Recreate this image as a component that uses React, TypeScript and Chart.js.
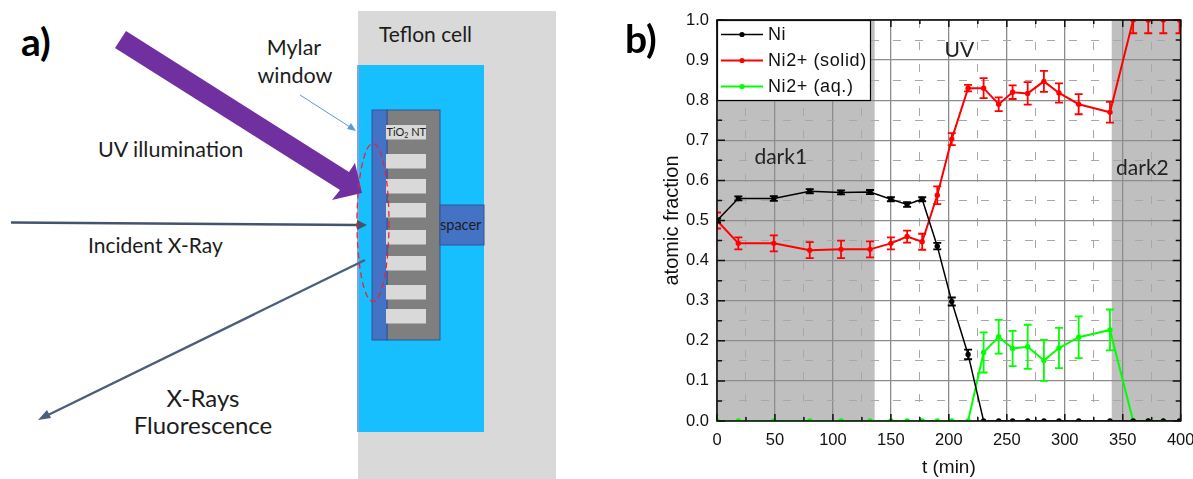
import React, { useEffect, useRef } from "react";
import { Chart, registerables } from "chart.js";

Chart.register(...registerables);

const times = [0, 18.4, 49, 80, 107, 132, 150, 164, 177, 190, 202.5, 216.6, 230, 243, 255, 268, 282, 295, 312, 339, 359, 372, 385, 399];
const niValues = [0.5, 0.555, 0.555, 0.573, 0.57, 0.571, 0.553, 0.54, 0.553, 0.436, 0.298, 0.166, 0, 0, 0, 0, 0, 0, 0, 0, 0, 0, 0, 0];
const niErrors = [0.005, 0.005, 0.006, 0.005, 0.005, 0.005, 0.005, 0.006, 0.005, 0.008, 0.01, 0.012, 0, 0, 0, 0, 0, 0, 0, 0, 0, 0, 0, 0];
const solidValues = [0.5, 0.443, 0.443, 0.426, 0.428, 0.428, 0.443, 0.46, 0.447, 0.563, 0.703, 0.83, 0.83, 0.79, 0.82, 0.817, 0.847, 0.818, 0.79, 0.77, 1, 1, 1, 1];
const solidErrors = [0.02, 0.015, 0.02, 0.02, 0.022, 0.02, 0.015, 0.015, 0.02, 0.022, 0.015, 0.008, 0.025, 0.017, 0.017, 0.028, 0.026, 0.024, 0.025, 0.026, 0.033, 0.033, 0.033, 0.033];
const aqueousValues = [0, 0, 0, 0, 0, 0, 0, 0, 0, 0, 0, 0, 0.171, 0.21, 0.181, 0.185, 0.151, 0.182, 0.209, 0.227, 0, 0, 0, 0];
const aqueousErrors = [0, 0, 0, 0, 0, 0, 0, 0, 0, 0, 0, 0, 0.05, 0.042, 0.044, 0.055, 0.051, 0.05, 0.052, 0.051, 0, 0, 0, 0];
const seriesNames = ["Ni", "Ni2+ (solid)", "Ni2+ (aq.)"];
const seriesColors = ["#000000", "#ff0000", "#00ff00"];
const darkSpans = [[0, 136], [340.5, 400]];
const regionLabels = [
  { text: "dark1", t: 55, f: 0.657 },
  { text: "UV", t: 209, f: 0.925 },
  { text: "dark2", t: 367, f: 0.63 },
];

const sans = "Liberation Sans, Arial, sans-serif";
const calibri = "Lato, sans-serif";

const shadePlugin = {
  id: "shade",
  beforeDraw(chart: any) {
    const { ctx, scales, chartArea } = chart;
    ctx.save();
    ctx.fillStyle = "#bfbfbf";
    darkSpans.forEach(([a, b]) => {
      const l = scales.x.getPixelForValue(a);
      ctx.fillRect(l, chartArea.top, scales.x.getPixelForValue(b) - l, chartArea.bottom - chartArea.top);
    });
    ctx.restore();
  },
};

const errorPlugin = {
  id: "errors",
  afterDatasetDraw(chart: any, args: any) {
    const ds = chart.data.datasets[args.index];
    const { ctx, scales, chartArea } = chart;
    ctx.save();
    ctx.beginPath();
    ctx.rect(chartArea.left, chartArea.top - 1, chartArea.right - chartArea.left, chartArea.bottom - chartArea.top + 2);
    ctx.clip();
    ctx.strokeStyle = ds.borderColor;
    ctx.lineWidth = 1.8;
    ds.data.forEach((p: any, i: number) => {
      const e = ds.errors[i];
      if (!e) return;
      const x = scales.x.getPixelForValue(p.x);
      const hi = scales.y.getPixelForValue(p.y + e);
      const lo = scales.y.getPixelForValue(p.y - e);
      ctx.beginPath();
      ctx.moveTo(x, hi);
      ctx.lineTo(x, lo);
      ctx.moveTo(x - 4, hi);
      ctx.lineTo(x + 4, hi);
      ctx.moveTo(x - 4, lo);
      ctx.lineTo(x + 4, lo);
      ctx.stroke();
    });
    ctx.restore();
  },
};

const framePlugin = {
  id: "frame",
  afterDatasetsDraw(chart: any) {
    const { ctx, scales, chartArea: a } = chart;
    ctx.save();
    ctx.strokeStyle = "#111";
    ctx.lineWidth = 1.5;
    scales.y.ticks.forEach((t: any) => {
      const y = scales.y.getPixelForValue(t.value);
      const len = t.label === "" ? 5 : 8;
      ctx.beginPath();
      ctx.moveTo(a.left, y);
      ctx.lineTo(a.left + len, y);
      ctx.moveTo(a.right, y);
      ctx.lineTo(a.right - len, y);
      ctx.stroke();
    });
    scales.x.ticks.forEach((t: any) => {
      const x = scales.x.getPixelForValue(t.value);
      const len = t.label === "" ? 4 : 7;
      ctx.beginPath();
      ctx.moveTo(x, a.bottom);
      ctx.lineTo(x, a.bottom - len);
      ctx.moveTo(x, a.top);
      ctx.lineTo(x, a.top + len);
      ctx.stroke();
    });

    ctx.fillStyle = "#222";
    ctx.font = `21px ${calibri}`;
    ctx.textAlign = "center";
    ctx.textBaseline = "middle";
    regionLabels.forEach((r) => {
      ctx.fillText(r.text, scales.x.getPixelForValue(r.t), scales.y.getPixelForValue(r.f));
    });

    const bx = a.left, by = a.top, bw = 153, bh = 80;
    ctx.fillStyle = "#fff";
    ctx.fillRect(bx, by, bw, bh);
    ctx.strokeStyle = "#000";
    ctx.lineWidth = 1.2;
    ctx.strokeRect(bx + 0.5, by + 0.5, bw, bh);
    ctx.font = `18px ${sans}`;
    (ctx as any).letterSpacing = "0.6px";
    ctx.textAlign = "left";
    seriesNames.forEach((name, i) => {
      const y = by + 14.5 + i * 26;
      ctx.strokeStyle = seriesColors[i];
      ctx.fillStyle = seriesColors[i];
      ctx.lineWidth = i === 0 ? 1.5 : 2;
      ctx.beginPath();
      ctx.moveTo(bx + 4, y);
      ctx.lineTo(bx + 46, y);
      ctx.stroke();
      ctx.beginPath();
      ctx.arc(bx + 25, y, 2.6, 0, Math.PI * 2);
      ctx.fill();
      ctx.fillStyle = "#111";
      ctx.fillText(name, bx + 51, y + 1);
    });
    (ctx as any).letterSpacing = "0px";

    ctx.strokeStyle = "#111";
    ctx.lineWidth = 1.6;
    ctx.strokeRect(a.left, a.top, a.right - a.left, a.bottom - a.top);
    ctx.restore();
  },
};

const toPoints = (ys: number[]) => ys.map((y, i) => ({ x: times[i], y }));
const isMajorX = (c: any) => c.tick && c.tick.value % 50 === 0;
const isMajorY = (c: any) => c.tick && Math.round(c.tick.value * 100) % 10 === 0;

const Schematic = () => {
  const textStyle: React.CSSProperties = { fontFamily: calibri, fill: "#1c1c1c" };
  const bars = [154, 179, 203, 230, 256, 285, 309];
  return (
    <svg width={620} height={479} style={{ position: "absolute", left: 0, top: 0 }}>
      <rect x={358} y={11} width={198} height={468} fill="#d9d9d9" />
      <rect x={358} y={65} width={126} height={367} fill="#17bfff" />
      <line x1={358} y1={65} x2={358} y2={432} stroke="#7ea6d8" strokeWidth={2} />
      <rect x={387} y={110} width={53} height={230} fill="#7f7f7f" stroke="#2f5597" />
      <rect x={372} y={110} width={15} height={230} fill="#4472c4" stroke="#2f5597" />
      <rect x={386} y={125} width={40} height={14.5} fill="#d9d9d9" />
      {bars.map((y) => (
        <rect key={y} x={386} y={y} width={40} height={14.5} fill="#d9d9d9" />
      ))}
      <text x={386.5} y={136} fontSize={11} style={textStyle}>TiO<tspan fontSize={7} dy={2}>2</tspan><tspan dy={-2}> NT</tspan></text>
      <rect x={440} y={205} width={44} height={40} fill="#4472c4" stroke="#2f5597" />
      <text x={440} y={230} fontSize={14.5} style={textStyle}>spacer</text>
      <polygon points="126,31 349,172 355,163 362,193 332,200 340,190 115,48" fill="#7030a0" />
      <line x1={11} y1={222.5} x2={358} y2={225} stroke="#44546a" strokeWidth={2.4} />
      <polygon points="367,225 357,220 357,230" fill="#44546a" />
      <line x1={365} y1={260} x2={46} y2={416} stroke="#4a5f7a" strokeWidth={2.4} />
      <polygon points="38,420 47,410 51,418" fill="#4a5f7a" />
      <line x1={300} y1={95} x2={350} y2={127} stroke="#5b9bd5" strokeWidth={1} />
      <polygon points="356,131 347,129 351,123" fill="#5b9bd5" />
      <ellipse cx={373} cy={222.5} rx={16} ry={79} fill="none" stroke="#e8243a" strokeWidth={1.3} strokeDasharray="6 4" />
      <text x={21} y={56} fontSize={39} fontWeight={700} style={{ ...textStyle, fill: "#000" }}>a)</text>
      <text x={379} y={42} fontSize={21} style={textStyle}>Teflon cell</text>
      <text x={294} y={55} fontSize={21.5} textAnchor="middle" style={textStyle}>Mylar</text>
      <text x={295} y={83} fontSize={21.5} textAnchor="middle" style={textStyle}>window</text>
      <text x={98} y={157} fontSize={21.5} style={textStyle}>UV illumination</text>
      <text x={88} y={253} fontSize={21} style={textStyle}>Incident X-Ray</text>
      <text x={203} y={407} fontSize={24} textAnchor="middle" style={textStyle}>X-Rays</text>
      <text x={203} y={434} fontSize={24} textAnchor="middle" style={textStyle}>Fluorescence</text>
    </svg>
  );
};

export default function App() {
  const ref = useRef<HTMLCanvasElement>(null);
  useEffect(() => {
    const chart = new Chart(ref.current as HTMLCanvasElement, {
      type: "line",
      data: {
        datasets: [niValues, solidValues, aqueousValues].map((vals, i) => ({
          label: seriesNames[i],
          data: toPoints(vals),
          errors: [niErrors, solidErrors, aqueousErrors][i],
          borderColor: seriesColors[i],
          backgroundColor: seriesColors[i],
          borderWidth: i === 0 ? 1.5 : 2,
          pointRadius: 2.7,
          pointBorderWidth: 0,
          tension: 0,
        })) as any,
      },
      options: {
        responsive: false,
        animation: false,
        layout: { autoPadding: false, padding: { left: 660, right: 12.3, top: 20, bottom: 0 } },
        plugins: { legend: { display: false }, tooltip: { enabled: false } },
        scales: {
          x: {
            type: "linear",
            min: 0,
            max: 400,
            afterFit: (s: any) => { s.height = 58; s.paddingRight = 0; s.paddingLeft = 0; },
            ticks: {
              stepSize: 25,
              autoSkip: false,
              maxRotation: 0,
              padding: 10,
              color: "#111",
              font: { family: sans, size: 16.5 },
              callback: (v: any) => (Number(v) % 50 === 0 ? String(v) : ""),
            },
            title: { display: true, text: "t (min)", color: "#111", font: { family: sans, size: 19 }, padding: 0 },
            grid: {
              drawTicks: false,
              color: (c: any) => (isMajorX(c) ? "#8c8c8c" : "#a8a8a8"),
              lineWidth: (c: any) => (isMajorX(c) ? 1.3 : 1),
            },
            border: { display: false, dash: (c: any) => (isMajorX(c) ? [] : [8, 14]) },
          },
          y: {
            min: 0,
            max: 1,
            afterFit: (s: any) => { s.width = 57; s.paddingTop = 0; s.paddingBottom = 0; },
            ticks: {
              stepSize: 0.05,
              autoSkip: false,
              padding: 8,
              color: "#111",
              font: { family: sans, size: 16.5 },
              callback: (v: any) => (Math.round(Number(v) * 100) % 10 === 0 ? Number(v).toFixed(1) : ""),
            },
            title: { display: true, text: "atomic fraction", color: "#111", font: { family: sans, size: 20 }, padding: 0 },
            grid: {
              drawTicks: false,
              color: (c: any) => (isMajorY(c) ? "#8c8c8c" : "#a8a8a8"),
              lineWidth: (c: any) => (isMajorY(c) ? 1.3 : 1),
            },
            border: { display: false, dash: (c: any) => (isMajorY(c) ? [] : [8, 14]) },
          },
        },
      } as any,
      plugins: [shadePlugin, errorPlugin, framePlugin],
    });
    return () => chart.destroy();
  }, []);
  return (
    <div style={{ position: "fixed", left: 0, top: 0, width: 1193, height: 479, background: "#fff", overflow: "hidden" }}>
      <Schematic />
      <canvas ref={ref} width={1193} height={479} style={{ position: "absolute", left: 0, top: 0 }} />
      <div style={{ position: "absolute", left: 625, top: 16, fontFamily: calibri, fontWeight: 700, fontSize: 39, lineHeight: "44px", color: "#000" }}>b)</div>
    </div>
  );
}
